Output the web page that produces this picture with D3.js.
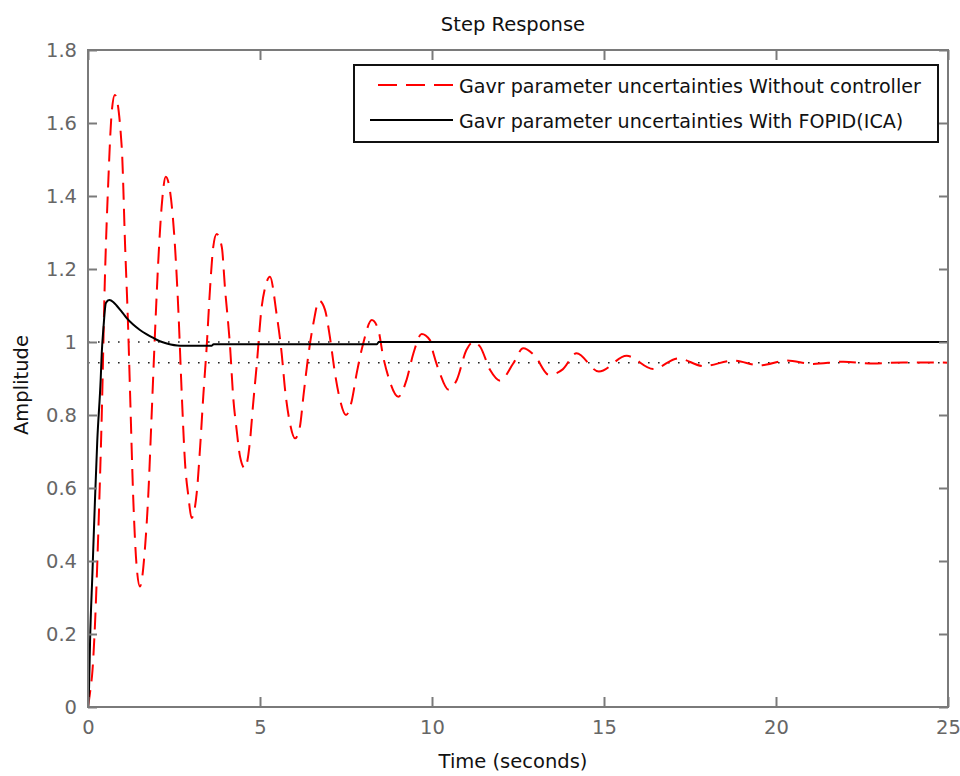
<!DOCTYPE html>
<html>
<head>
<meta charset="utf-8">
<script src="https://cdn.jsdelivr.net/npm/d3@7"></script>
<style>
  html, body { margin: 0; padding: 0; background: #fff; }
  svg { display: block; }
  text { font-family: "DejaVu Sans", sans-serif; }
</style>
</head>
<body>
<svg id="chart" width="960" height="776"></svg>
<script>
// ---- data ----
const chartTitle = "Step Response";
const xLabel = "Time (seconds)";
const yLabel = "Amplitude";
const seriesNames = [
  "Gavr parameter uncertainties Without controller",
  "Gavr parameter uncertainties With FOPID(ICA)"
];
const xTicks = [0, 5, 10, 15, 20, 25];
const xTickLabels = ["0", "5", "10", "15", "20", "25"];
const yTicks = [0, 0.2, 0.4, 0.6, 0.8, 1, 1.2, 1.4, 1.6, 1.8];
const yTickLabels = ["0", "0.2", "0.4", "0.6", "0.8", "1", "1.2", "1.4", "1.6", "1.8"];

const timeWithout = [0, 0.06, 0.13, 0.2, 0.3, 0.4, 0.49, 0.59, 0.69, 0.78, 0.98, 1.08, 1.17, 1.22, 1.32, 1.41, 1.51,
  1.66, 1.75, 1.85, 1.95, 2.04, 2.14, 2.26, 2.38, 2.53, 2.63, 2.72, 2.82, 2.92, 3.01, 3.16, 3.26, 3.35, 3.45,
  3.55, 3.64, 3.74, 3.89, 3.98, 4.13, 4.22, 4.32, 4.42, 4.56, 4.71, 4.8, 4.9, 5.05, 5.15, 5.29, 5.48, 5.63,
  5.73, 5.87, 6.02, 6.16, 6.26, 6.4, 6.55, 6.72, 6.89, 7.03, 7.18, 7.33, 7.5, 7.67, 7.81, 8.0, 8.25, 8.44,
  8.58, 8.73, 9.02, 9.26, 9.46, 9.7, 9.94, 10.04, 10.23, 10.47, 10.72, 11.0, 11.2, 11.4, 11.69, 11.98, 12.36,
  12.65, 12.99, 13.4, 13.8, 14.2, 14.85, 15.66, 16.43, 17.16, 17.89, 18.76, 19.53, 20.31, 21.08, 21.96,
  22.83, 23.7, 24.6, 25];
const ampWithout = [0, 0.04, 0.1, 0.22, 0.48, 0.8, 1.17, 1.44, 1.63, 1.677, 1.535, 1.26, 1.03, 0.87, 0.56, 0.39, 0.33,
  0.44, 0.576, 0.80, 1.03, 1.216, 1.37, 1.453, 1.416, 1.26, 1.08, 0.87, 0.67, 0.576, 0.518, 0.586, 0.713, 0.85, 0.987,
  1.15, 1.26, 1.296, 1.26, 1.15, 0.987, 0.85, 0.76, 0.686, 0.654, 0.73, 0.83, 0.932, 1.097, 1.15, 1.179, 1.078, 0.969,
  0.868, 0.778, 0.736, 0.768, 0.85, 0.96, 1.05, 1.113, 1.088, 1.015, 0.914, 0.84, 0.8, 0.84, 0.914, 0.996, 1.06, 1.033,
  0.96, 0.905, 0.85, 0.896, 0.969, 1.022, 1.005, 0.969, 0.914, 0.87, 0.896, 0.978, 1.0, 0.987, 0.923, 0.894, 0.941,
  0.983, 0.962, 0.91, 0.925, 0.969, 0.919, 0.962, 0.926, 0.955, 0.934, 0.949, 0.936, 0.949, 0.94, 0.946,
  0.941, 0.944, 0.944, 0.943];

const timeFopid = [0, 0.03, 0.06, 0.13, 0.2, 0.27, 0.37, 0.4, 0.45, 0.52, 0.62, 0.74, 0.83, 0.93, 1.03, 1.12, 1.32,
  1.51, 1.71, 1.9, 2.09, 2.29, 2.67, 3.6, 3.65, 8.4, 8.45, 25];
const ampFopid = [0, 0.05, 0.18, 0.37, 0.56, 0.73, 0.9, 0.97, 1.04, 1.107, 1.115, 1.109, 1.1, 1.089, 1.077, 1.066,
  1.047, 1.033, 1.021, 1.011, 1.002, 0.996, 0.99, 0.99, 0.994, 0.994, 1.0, 1.0];

const steadyLevels = [1.0, 0.943];

// ---- layout ----
const W = 960, H = 776;
const plot = { left: 88, right: 948, top: 50, bottom: 707 };
const fontSize = 19.5;

const svg = d3.select("#chart");
const x = d3.scaleLinear().domain([0, 25]).range([plot.left, plot.right]);
const y = d3.scaleLinear().domain([0, 1.8]).range([plot.bottom, plot.top]);

svg.append("defs").append("clipPath").attr("id", "clip")
  .append("rect")
  .attr("x", plot.left).attr("y", plot.top)
  .attr("width", plot.right - plot.left).attr("height", plot.bottom - plot.top);

// steady-state dotted lines
svg.append("g").attr("clip-path", "url(#clip)")
  .selectAll("line").data(steadyLevels).join("line")
  .attr("x1", x(0)).attr("x2", x(25))
  .attr("y1", d => y(d)).attr("y2", d => y(d))
  .attr("stroke", "#222").attr("stroke-width", 1.6)
  .attr("stroke-dasharray", "1.6,8.4");

const lineGen = d3.line().curve(d3.curveMonotoneX)
  .x(d => x(d[0])).y(d => y(d[1]));

const redData = timeWithout.map((t, i) => [t, ampWithout[i]]);
const blackData = timeFopid.map((t, i) => [t, ampFopid[i]]);

const curves = svg.append("g").attr("clip-path", "url(#clip)");
curves.append("path").datum(redData)
  .attr("d", lineGen).attr("fill", "none")
  .attr("stroke", "#ff0000").attr("stroke-width", 2)
  .attr("stroke-dasharray", "17,9");
curves.append("path").datum(blackData)
  .attr("d", lineGen).attr("fill", "none")
  .attr("stroke", "#000").attr("stroke-width", 2);

// axes (ticks inward, mirrored on all four sides)
const axisColor = "#7a7a7a";
function styleAxis(g) {
  g.select(".domain").remove();
  g.selectAll(".tick line").attr("stroke", axisColor).attr("stroke-width", 2);
  g.selectAll(".tick text").attr("fill", "#666").attr("font-size", fontSize)
    .attr("font-family", "DejaVu Sans, sans-serif");
}
svg.append("g").attr("transform", `translate(0,${plot.bottom})`)
  .call(d3.axisBottom(x).tickValues(xTicks).tickFormat((d, i) => xTickLabels[i])
    .tickSizeInner(-10).tickSizeOuter(0).tickPadding(13))
  .call(styleAxis);
svg.append("g").attr("transform", `translate(0,${plot.top})`)
  .call(d3.axisTop(x).tickValues(xTicks).tickFormat("")
    .tickSizeInner(-10).tickSizeOuter(0))
  .call(styleAxis);
svg.append("g").attr("transform", `translate(${plot.left},0)`)
  .call(d3.axisLeft(y).tickValues(yTicks).tickFormat((d, i) => yTickLabels[i])
    .tickSizeInner(-9).tickSizeOuter(0).tickPadding(11))
  .call(styleAxis);
svg.append("g").attr("transform", `translate(${plot.right},0)`)
  .call(d3.axisRight(y).tickValues(yTicks).tickFormat("")
    .tickSizeInner(-9).tickSizeOuter(0))
  .call(styleAxis);

// frame
svg.append("rect")
  .attr("x", plot.left).attr("y", plot.top)
  .attr("width", plot.right - plot.left).attr("height", plot.bottom - plot.top)
  .attr("fill", "none").attr("stroke", axisColor).attr("stroke-width", 2);

// legend
const legend = svg.append("g");
legend.append("rect")
  .attr("x", 354).attr("y", 65).attr("width", 584).attr("height", 77)
  .attr("fill", "#fff").attr("stroke", "#111").attr("stroke-width", 2);
legend.append("line")
  .attr("x1", 378).attr("x2", 453).attr("y1", 85).attr("y2", 85)
  .attr("stroke", "#ff0000").attr("stroke-width", 2).attr("stroke-dasharray", "19,9");
legend.append("line")
  .attr("x1", 370).attr("x2", 453).attr("y1", 120).attr("y2", 120)
  .attr("stroke", "#000").attr("stroke-width", 2);
legend.selectAll("text.leg").data(seriesNames).join("text")
  .attr("class", "leg")
  .attr("x", 459).attr("y", (d, i) => i === 0 ? 93 : 128)
  .attr("font-size", 19.1).attr("fill", "#111")
  .text(d => d);

// title & labels
svg.append("text").attr("x", 513).attr("y", 31)
  .attr("text-anchor", "middle").attr("font-size", fontSize).attr("fill", "#111")
  .text(chartTitle);
svg.append("text").attr("x", 513).attr("y", 768)
  .attr("text-anchor", "middle").attr("font-size", fontSize).attr("fill", "#111")
  .text(xLabel);
svg.append("text")
  .attr("transform", "translate(28,385) rotate(-90)")
  .attr("text-anchor", "middle").attr("font-size", fontSize).attr("fill", "#111")
  .text(yLabel);
</script>
</body>
</html>
